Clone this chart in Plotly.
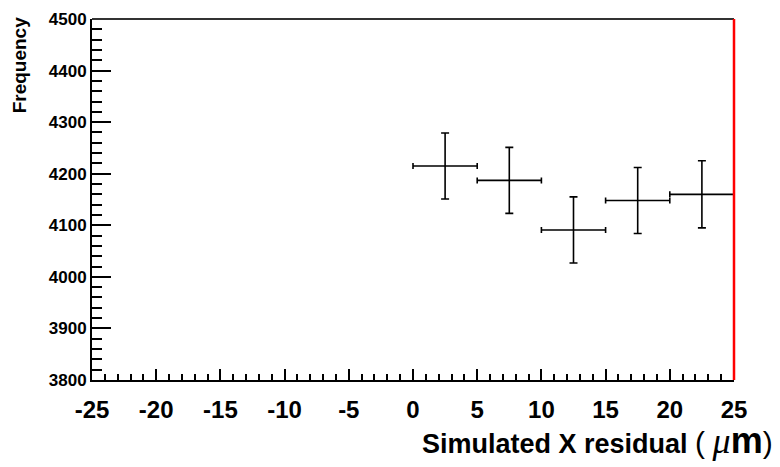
import plotly.graph_objects as go

# Data
bin_centers = [2.5, 7.5, 12.5, 17.5, 22.5]
bin_half_widths = [2.5, 2.5, 2.5, 2.5, 2.5]
frequency = [4215, 4187, 4091, 4148, 4160]
freq_err = [64, 64, 64, 64, 65]

x_tick_vals = [-25, -20, -15, -10, -5, 0, 5, 10, 15, 20, 25]
x_tick_text = ["-25", "-20", "-15", "-10", "-5", "0", "5", "10", "15", "20", "25"]
y_tick_vals = [3800, 3900, 4000, 4100, 4200, 4300, 4400, 4500]
y_tick_text = ["3800", "3900", "4000", "4100", "4200", "4300", "4400", "4500"]

FONT = "Liberation Sans"

fig = go.Figure()
fig.add_trace(go.Scatter(
    x=bin_centers, y=frequency, mode="markers",
    marker=dict(size=1, color="black"),
    error_x=dict(type="data", array=bin_half_widths, color="black", thickness=1.6, width=3),
    error_y=dict(type="data", array=freq_err, color="black", thickness=1.6, width=4),
    showlegend=False, hoverinfo="skip",
))

# top frame line and red right edge line
fig.add_shape(type="line", x0=0, x1=1, y0=1, y1=1, xref="paper", yref="paper",
              line=dict(color="#333333", width=2), layer="above")
fig.add_shape(type="line", x0=1, x1=1, y0=0, y1=1, xref="paper", yref="paper",
              line=dict(color="red", width=2.5), layer="above")

fig.update_layout(
    width=780, height=467,
    margin=dict(l=92, r=46, t=10, b=87),
    paper_bgcolor="white", plot_bgcolor="white",
    xaxis=dict(
        range=[-25, 25], tickvals=x_tick_vals, ticktext=x_tick_text,
        ticks="inside", ticklen=11, tickwidth=2, tickcolor="black",
        minor=dict(ticks="inside", ticklen=6, tickwidth=2, tickcolor="black", dtick=1, showgrid=False),
        showline=True, linecolor="black", linewidth=2, mirror=False,
        showgrid=False, zeroline=False,
        tickfont=dict(family=FONT, size=24, color="black", weight="bold"),
        ticklabelstandoff=7,
    ),
    yaxis=dict(
        range=[3800, 4500], tickvals=y_tick_vals, ticktext=y_tick_text,
        ticks="inside", ticklen=19, tickwidth=2, tickcolor="black",
        minor=dict(ticks="inside", ticklen=10, tickwidth=2, tickcolor="black", dtick=20, showgrid=False),
        showline=True, linecolor="black", linewidth=2, mirror=False,
        showgrid=False, zeroline=False,
        tickfont=dict(family=FONT, size=17, color="black", weight="bold"),
    ),
    annotations=[
        dict(text="Frequency", xref="paper", yref="paper",
             x=(19 - 92) / 642, y=(380 - 57.5) / 370, xanchor="center", yanchor="middle",
             textangle=-90, showarrow=False,
             font=dict(family=FONT, size=19, color="black", weight="bold")),
        dict(text="Simulated X residual <span style='font-size:30px;font-weight:normal'>(</span> "
                  "<span style='font-family:Liberation Serif;font-size:36px;font-weight:normal'><i>μ</i></span>"
                  "<span style='font-size:36px'>m</span><span style='font-size:30px;font-weight:normal'>)</span>",
             xref="paper", yref="paper",
             x=(775 - 92) / 642, y=(380 - 465) / 370, xanchor="right", yanchor="bottom",
             showarrow=False,
             font=dict(family=FONT, size=27, color="black", weight="bold")),
    ],
)

fig.write_html("out.html")
